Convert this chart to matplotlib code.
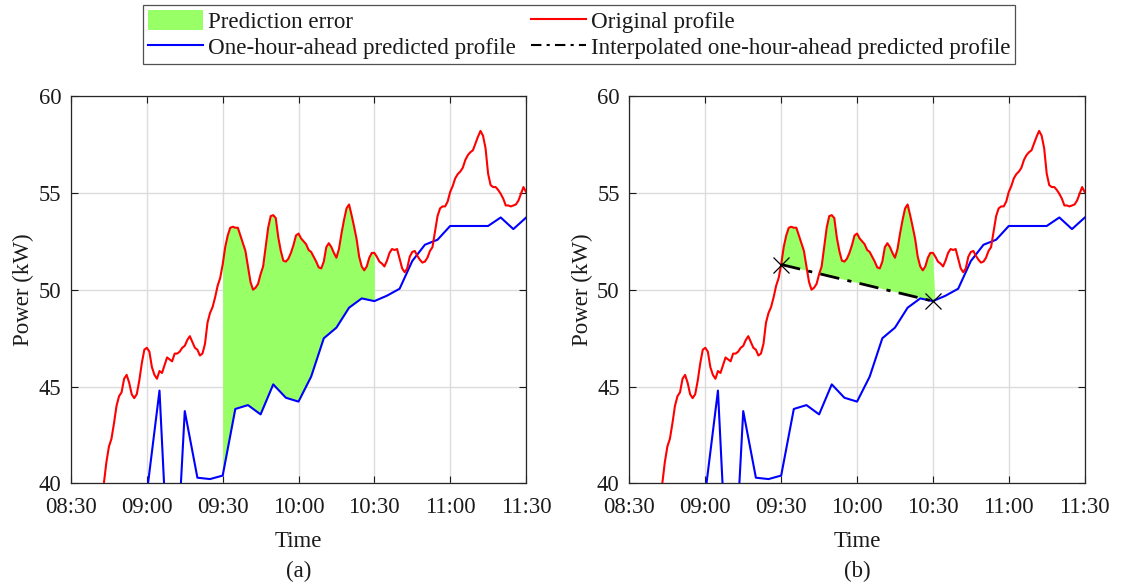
import numpy as np
import matplotlib
matplotlib.use("Agg")
import matplotlib.pyplot as plt
from matplotlib.patches import Patch
from matplotlib.lines import Line2D

plt.rcParams['font.family'] = ['Liberation Serif', 'DejaVu Serif']
plt.rcParams['mathtext.fontset'] = 'stix'

# minutes after 08:30
red_start = 13
red_kw = [
    40.0, 41.1, 41.9, 42.3, 43.1, 44.0, 44.5, 44.7, 45.4, 45.6,   # 13-22
    45.2, 44.6, 44.4, 44.6, 45.3, 46.2, 46.9, 47.0, 46.8, 46.0,   # 23-32
    45.6, 45.4, 45.8, 45.7, 46.1, 46.5, 46.4, 46.3, 46.7, 46.7,   # 33-42
    46.8, 47.0, 47.1, 47.4, 47.6, 47.3, 47.0, 46.9, 46.6, 46.7,   # 43-52
    47.2, 48.3, 48.8, 49.1, 49.6, 50.2, 50.6, 51.3, 52.2, 52.8,   # 53-62
    53.2, 53.25, 53.2, 53.2, 52.8, 52.4, 52.0, 51.2, 50.4, 50.0,  # 63-72
    50.1, 50.3, 50.8, 51.2, 52.2, 53.2, 53.8, 53.85, 53.7, 52.7,  # 73-82
    52.0, 51.5, 51.45, 51.6, 51.9, 52.3, 52.8, 52.9, 52.65, 52.5,  # 83-92
    52.35, 52.05, 51.95, 51.7, 51.45, 51.15, 51.1, 51.45, 52.2, 52.4,  # 93-102
    52.2, 51.9, 51.65, 52.1, 52.9, 53.6, 54.2, 54.4, 53.85, 53.25,  # 103-112
    52.6, 51.7, 51.2, 51.0, 51.2, 51.65, 51.9, 51.9, 51.7, 51.45,  # 113-122
    51.35, 51.2, 51.5, 51.9, 52.1, 52.05, 52.1, 51.6, 51.1, 50.9,  # 123-132
    51.1, 51.7, 51.95, 52.0, 51.75, 51.55, 51.4, 51.45, 51.65, 52.0,  # 133-142
    52.2, 53.0, 53.8, 54.2, 54.3, 54.3, 54.55, 55.05, 55.35, 55.75,  # 143-152
    55.97, 56.1, 56.3, 56.7, 56.95, 57.1, 57.2, 57.55, 57.9, 58.2,  # 153-162
    57.95, 57.3, 56.0, 55.4, 55.3, 55.3, 55.15, 54.95, 54.7, 54.35,  # 163-172
    54.35, 54.3, 54.35, 54.4, 54.6, 54.95, 55.3, 55.05,            # 173-180
]
red_t = np.arange(red_start, red_start + len(red_kw))

blue_t = list(range(30, 181, 5))
blue_kw = [39.5, 44.79, 31.5, 43.73, 40.29, 40.22, 40.4, 43.84, 44.04, 43.56,
           45.11, 44.42, 44.22, 45.51, 47.49, 48.04, 49.07, 49.55, 49.41, 49.69,
           50.05, 51.48, 52.32, 52.58, 53.29, 53.29, 53.29, 53.29, 53.73, 53.13,
           53.72]

win_start, win_end = 60, 120
tick_min = [0, 30, 60, 90, 120, 150, 180]
tick_lbl = ['08:30', '09:00', '09:30', '10:00', '10:30', '11:00', '11:30']

GREEN = '#99ff66'
INK = '#1a1a1a'

red_kw = np.array(red_kw)
blue_on_red = np.interp(red_t, blue_t, blue_kw)

fig = plt.figure(figsize=(11.22, 5.85), dpi=100)
ax_a = fig.add_axes([0.0633, 0.1738, 0.4055, 0.662])
ax_b = fig.add_axes([0.5610, 0.1738, 0.4057, 0.662])


def style(ax, tag):
    ax.set_xlim(0, 180)
    ax.set_ylim(40, 60)
    ax.set_xticks(tick_min)
    ax.set_xticklabels(tick_lbl)
    ax.set_yticks([40, 45, 50, 55, 60])
    ax.grid(True, color='#dcdcdc', linewidth=1.0)
    ax.set_axisbelow(True)
    ax.tick_params(direction='in', top=True, right=True, length=5,
                   labelsize=16.3, colors=INK)
    ax.tick_params(axis='x', pad=10)
    ax.tick_params(axis='y', pad=7)
    for s in ax.spines.values():
        s.set_color('#262626')
        s.set_linewidth(0.9)
    ax.set_xlabel('Time', fontsize=16.5, color=INK, labelpad=9)
    ax.set_ylabel('Power (kW)', fontsize=16.5, color=INK, labelpad=3)
    ax.text(0.5, -0.228, tag, transform=ax.transAxes, ha='center', va='center',
            fontsize=16.5, color=INK)


# (a): error between original and predicted over the hour
win = (red_t >= win_start) & (red_t <= win_end)
ax_a.fill_between(red_t[win], blue_on_red[win], red_kw[win], color=GREEN,
                  linewidth=0, zorder=2)
ax_a.plot(blue_t, blue_kw, color='#0000ff', linewidth=1.5, zorder=3)
ax_a.plot(red_t, red_kw, color='#ff0000', linewidth=1.5, zorder=4)
style(ax_a, '(a)')

# (b): error against the straight line joining the two hour marks
p0 = red_kw[red_t == win_start][0]
p1 = blue_kw[blue_t.index(win_end)]
line_kw = np.interp(red_t, [win_start, win_end], [p0, p1])
ax_b.fill_between(red_t, line_kw, red_kw,
                  where=win & (red_kw >= line_kw), interpolate=True,
                  color=GREEN, linewidth=0, zorder=2)
ax_b.plot(blue_t, blue_kw, color='#0000ff', linewidth=1.5, zorder=3)
ax_b.plot(red_t, red_kw, color='#ff0000', linewidth=1.5, zorder=4)
ax_b.plot([win_start, win_end], [p0, p1], color='black', linewidth=2.0,
          linestyle=(0, (7, 3, 1.5, 3)), zorder=5)
ax_b.plot([win_start, win_end], [p0, p1], linestyle='none', marker='x',
          markersize=11, markeredgewidth=0.9, color='black', zorder=6)
style(ax_b, '(b)')

handles = [
    Patch(facecolor=GREEN, edgecolor='none'),
    Line2D([], [], color='#0000ff', linewidth=1.5),
    Line2D([], [], color='#ff0000', linewidth=1.5),
    Line2D([], [], color='black', linewidth=1.5, linestyle=(0, (5, 2.5, 1.5, 2.5))),
]
labels = ['Prediction error', 'One-hour-ahead predicted profile',
          'Original profile', 'Interpolated one-hour-ahead predicted profile']
leg = fig.legend(handles, labels, ncol=2, loc='center',
                 bbox_to_anchor=(0.516, 0.941), fontsize=16.6,
                 frameon=True, fancybox=False, edgecolor='#262626',
                 handlelength=2.4, handleheight=1.0, handletextpad=0.2,
                 columnspacing=0.65, labelspacing=0.15, borderpad=0.2,
                 borderaxespad=0)
leg.get_frame().set_linewidth(0.9)
for t in leg.get_texts():
    t.set_color(INK)

fig.savefig('out.png', dpi=100)
